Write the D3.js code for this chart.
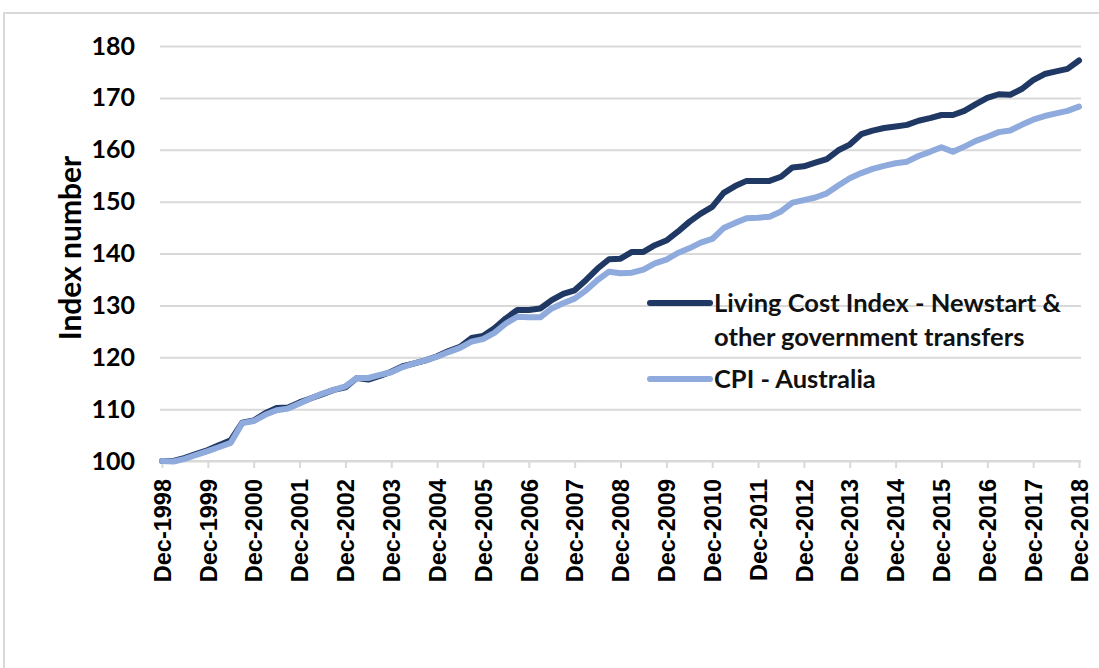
<!DOCTYPE html>
<html>
<head>
<meta charset="utf-8">
<script src="https://cdn.jsdelivr.net/npm/d3@7"></script>
<style>
  body { margin: 0; background: #fff; }
  svg { display: block; }
</style>
</head>
<body>
<svg id="chart" width="1099" height="668"></svg>
<script>
// year labels on the axis (every 4th quarter)
var yearTicks = ['Dec-1998','Dec-1999','Dec-2000','Dec-2001','Dec-2002','Dec-2003','Dec-2004',
  'Dec-2005','Dec-2006','Dec-2007','Dec-2008','Dec-2009','Dec-2010','Dec-2011','Dec-2012',
  'Dec-2013','Dec-2014','Dec-2015','Dec-2016','Dec-2017','Dec-2018']
var months = ['Dec','Mar','Jun','Sep']
var quarters = []
for (var q = 0; q < 81; q++) {
  quarters.push(months[q % 4] + '-' + (1998 + Math.ceil(q / 4)))
}

var seriesNames = ['Living Cost Index - Newstart &', 'other government transfers', 'CPI - Australia']

// Living Cost Index - Newstart & other government transfers
var lciValues = [100.0, 100.0, 100.6, 101.4, 102.1, 103.1, 104.0, 107.4, 107.8, 109.2,
  110.2, 110.3, 111.3, 112.1, 112.9, 113.7, 114.2, 116.0, 115.7, 116.4,
  117.2, 118.3, 118.8, 119.4, 120.2, 121.2, 122.0, 123.7, 124.1, 125.6,
  127.5, 129.1, 129.1, 129.4, 131.0, 132.2, 132.9, 134.9, 137.1, 138.9,
  139.0, 140.3, 140.3, 141.6, 142.5, 144.2, 146.1, 147.7, 149.0, 151.7,
  153.0, 154.0, 154.0, 154.0, 154.8, 156.6, 156.8, 157.5, 158.2, 159.9,
  161.0, 163.0, 163.7, 164.2, 164.5, 164.8, 165.6, 166.1, 166.7, 166.7,
  167.5, 168.8, 170.0, 170.7, 170.6, 171.7, 173.4, 174.6, 175.1, 175.6,
  177.2]

// CPI - Australia
var cpiValues = [100.0, 99.9, 100.4, 101.2, 101.9, 102.7, 103.5, 107.3, 107.7, 108.9,
  109.8, 110.1, 111.1, 112.1, 113.0, 113.7, 114.4, 116.0, 116.0, 116.6,
  117.1, 118.1, 118.8, 119.4, 120.1, 121.0, 121.8, 123.0, 123.5, 124.7,
  126.5, 127.8, 127.7, 127.7, 129.4, 130.4, 131.3, 132.9, 134.9, 136.5,
  136.2, 136.3, 136.9, 138.1, 138.8, 140.1, 141.0, 142.1, 142.8, 144.9,
  145.9, 146.8, 146.9, 147.1, 148.1, 149.8, 150.3, 150.8, 151.6, 153.1,
  154.5, 155.5, 156.3, 156.9, 157.4, 157.7, 158.8, 159.6, 160.5, 159.6,
  160.6, 161.7, 162.5, 163.4, 163.7, 164.8, 165.8, 166.5, 167.0, 167.5,
  168.3]

var yTicks = [100, 110, 120, 130, 140, 150, 160, 170, 180]

var svg = d3.select('#chart')
var grid = '#d9d9d9'
var dark = '#203864'
var light = '#8faadc'

// outer frame
svg.append('rect')
  .attr('x', 4).attr('y', 13)
  .attr('width', 1200).attr('height', 800)
  .attr('fill', 'none')
  .attr('stroke', grid)
  .attr('stroke-width', 2)

var x = d3.scalePoint().domain(quarters).range([162, 1079])
var y = d3.scaleLinear().domain([100, 180]).range([461, 46])

// y axis + gridlines
var yAxis = svg.append('g')
  .attr('transform', 'translate(160,0)')
  .call(d3.axisLeft(y).tickValues(yTicks).tickSize(-921).tickPadding(25))
yAxis.select('.domain').remove()
yAxis.selectAll('line').attr('stroke', grid).attr('stroke-width', 2)
yAxis.selectAll('text')
  .attr('fill', '#000')
  .style('font-family', 'Lato, sans-serif')
  .style('font-weight', 'bold')
  .style('font-size', '25px')

// x axis
var xAxis = svg.append('g')
  .attr('transform', 'translate(0,461)')
  .call(d3.axisBottom(x).tickValues(yearTicks).tickSizeInner(7).tickSizeOuter(0))
xAxis.select('.domain').attr('stroke', grid).attr('stroke-width', 2)
  .attr('d', 'M160,0H1081')
xAxis.selectAll('line').attr('stroke', grid).attr('stroke-width', 2)
xAxis.selectAll('text')
  .attr('fill', '#000')
  .attr('transform', 'rotate(-90)')
  .attr('text-anchor', 'end')
  .attr('x', -18)
  .attr('y', 0)
  .attr('dy', '0.35em')
  .style('font-family', '"Liberation Sans", Arial, sans-serif')
  .style('font-weight', 'bold')
  .style('font-size', '23.5px')

// axis title
svg.append('text')
  .attr('transform', 'translate(81,248) rotate(-90)')
  .attr('text-anchor', 'middle')
  .style('font-family', 'Lato, sans-serif')
  .style('font-weight', 'bold')
  .style('font-size', '30px')
  .text('Index number')

var line = d3.line()
  .x(function (d, i) { return x(quarters[i]) })
  .y(function (d) { return y(d) })

svg.append('path').datum(lciValues)
  .attr('d', line)
  .attr('fill', 'none')
  .attr('stroke', dark)
  .attr('stroke-width', 6)
  .attr('stroke-linejoin', 'round')
  .attr('stroke-linecap', 'round')

svg.append('path').datum(cpiValues)
  .attr('d', line)
  .attr('fill', 'none')
  .attr('stroke', light)
  .attr('stroke-width', 6)
  .attr('stroke-linejoin', 'round')
  .attr('stroke-linecap', 'round')

// legend
var legend = svg.append('g')
var legendItems = [
  { color: dark, y: 303, lines: [seriesNames[0], seriesNames[1]] },
  { color: light, y: 379, lines: [seriesNames[2]] }
]
legendItems.forEach(function (item) {
  legend.append('line')
    .attr('x1', 650).attr('x2', 710)
    .attr('y1', item.y).attr('y2', item.y)
    .attr('stroke', item.color)
    .attr('stroke-width', 6)
    .attr('stroke-linecap', 'round')
  item.lines.forEach(function (txt, k) {
    legend.append('text')
      .attr('x', 714)
      .attr('y', item.y + 9 + k * 34)
      .style('font-family', 'Lato, sans-serif')
      .style('font-weight', 'bold')
      .style('font-size', '25.5px')
      .attr('fill', '#111')
      .text(txt)
  })
})
</script>
</body>
</html>
